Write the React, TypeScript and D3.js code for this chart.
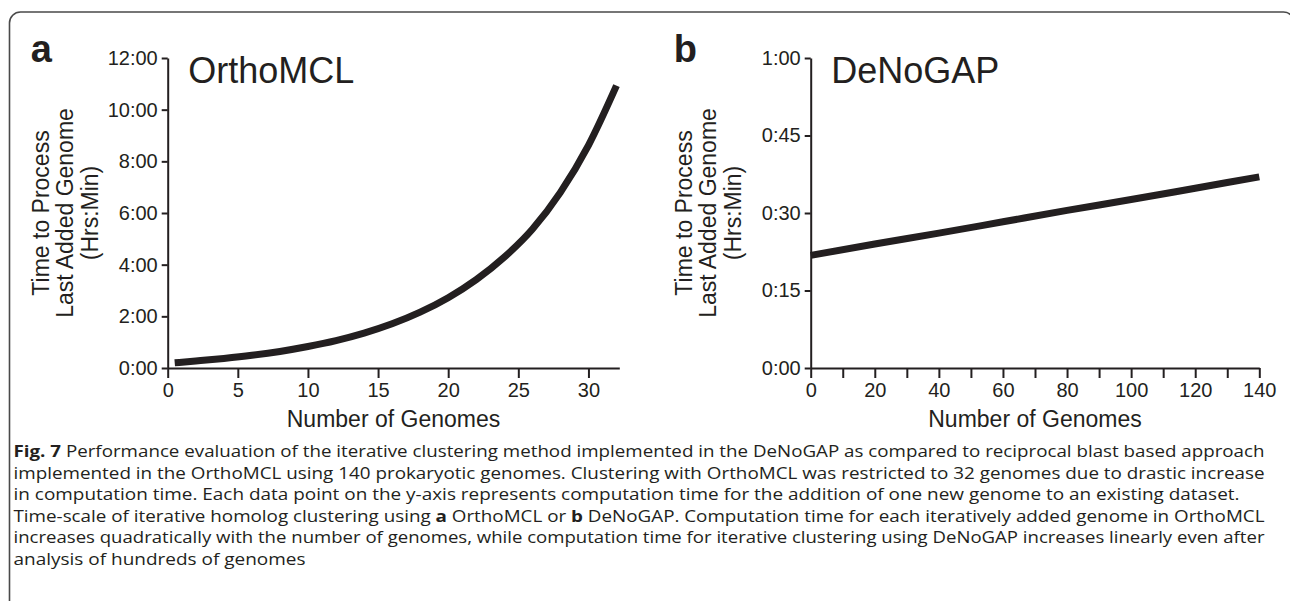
import React, { useEffect, useRef } from "react";
import * as d3 from "d3";

// panel a: OrthoMCL, hours to process the last added genome
const orthoGenomes = [0.5, 2, 4, 6, 8, 10, 12, 14, 16, 18, 20, 22, 24, 26, 28, 30, 32];
const orthoHours = [0.2, 0.27, 0.37, 0.49, 0.64, 0.83, 1.06, 1.35, 1.71, 2.16, 2.72, 3.42, 4.29, 5.37, 6.8, 8.62, 10.93];
const orthoYTicks = [0, 2, 4, 6, 8, 10, 12];
const orthoYLabels = ["0:00", "2:00", "4:00", "6:00", "8:00", "10:00", "12:00"];
const orthoXTicks = [0, 5, 10, 15, 20, 25, 30];

// panel b: DeNoGAP, minutes to process the last added genome
const denoGenomes = [0, 20, 40, 60, 80, 100, 120, 140];
const denoMinutes = [21.8, 24.0, 26.1, 28.3, 30.5, 32.6, 34.8, 37.0];
const denoYTicks = [0, 15, 30, 45, 60];
const denoYLabels = ["0:00", "0:15", "0:30", "0:45", "1:00"];
const denoXTicks = [0, 10, 20, 30, 40, 50, 60, 70, 80, 90, 100, 110, 120, 130, 140];
const denoXLabeled = [0, 20, 40, 60, 80, 100, 120, 140];

const yTitle = ["Time to Process", "Last Added Genome", "(Hrs:Min)"];
const xTitle = "Number of Genomes";

const captionLines = [
  [["Fig. 7", true], [" Performance evaluation of the iterative clustering method implemented in the DeNoGAP as compared to reciprocal blast based approach", false]],
  [["implemented in the OrthoMCL using 140 prokaryotic genomes. Clustering with OrthoMCL was restricted to 32 genomes due to drastic increase", false]],
  [["in computation time. Each data point on the y-axis represents computation time for the addition of one new genome to an existing dataset.", false]],
  [["Time-scale of iterative homolog clustering using ", false], ["a", true], [" OrthoMCL or ", false], ["b", true], [" DeNoGAP. Computation time for each iteratively added genome in OrthoMCL", false]],
  [["increases quadratically with the number of genomes, while computation time for iterative clustering using DeNoGAP increases linearly even after", false]],
  [["analysis of hundreds of genomes", false]],
];
const captionWidths = [1251, 1251, 1226, 1251, 1251, 292];

const INK = "#231f20";
const FONT = "'Liberation Sans', Arial, sans-serif";

function drawPanel(svg, p) {
  const x = d3.scaleLinear().domain(p.xDomain).range(p.xRange);
  const y = d3.scaleLinear().domain(p.yDomain).range([368, 58]);

  const xAxis = svg.append("g")
    .attr("transform", "translate(0,368)")
    .call(d3.axisBottom(x).tickValues(p.xTicks).tickSize(10).tickPadding(5).tickSizeOuter(0)
      .tickFormat(d => (p.xLabeled.includes(d) ? String(d) : "")));
  const yAxis = svg.append("g")
    .attr("transform", `translate(${p.xRange[0]},0)`)
    .call(d3.axisLeft(y).tickValues(p.yTicks).tickSize(6).tickPadding(4).tickSizeOuter(0)
      .tickFormat((d, i) => p.yLabels[i]));

  [xAxis, yAxis].forEach(g => {
    g.attr("font-family", FONT).attr("font-size", 20);
    g.select(".domain").attr("stroke", INK).attr("stroke-width", 2);
    g.selectAll(".tick line").attr("stroke", INK).attr("stroke-width", 2);
    g.selectAll(".tick text").attr("fill", INK);
  });

  // the curve
  const pts = p.xs.map((v, i) => [v, p.ys[i]]);
  svg.append("path")
    .datum(pts)
    .attr("fill", "none")
    .attr("stroke", INK)
    .attr("stroke-width", 7)
    .attr("stroke-linecap", "butt")
    .attr("d", d3.line().x(d => x(d[0])).y(d => y(d[1])).curve(d3.curveMonotoneX));

  // panel letter and name
  svg.append("text").attr("x", p.xRange[0] - 137).attr("y", 62)
    .attr("font-family", FONT).attr("font-weight", "bold").attr("font-size", 38).attr("fill", INK)
    .text(p.letter);
  svg.append("text").attr("x", p.xRange[0] + 20.5).attr("y", 82.5)
    .attr("font-family", FONT).attr("font-size", 36).attr("fill", INK)
    .text(p.name);

  // axis titles
  const xMid = (p.xRange[0] + p.xRange[1]) / 2;
  svg.append("text").attr("x", xMid).attr("y", 427)
    .attr("text-anchor", "middle").attr("font-family", FONT).attr("font-size", 23).attr("fill", INK)
    .text(xTitle);
  const yt = svg.append("g")
    .attr("transform", `translate(${p.xRange[0] - 119},213) rotate(-90)`);
  yTitle.forEach((t, i) => {
    yt.append("text").attr("x", 0).attr("y", i * 24.5)
      .attr("text-anchor", "middle").attr("font-family", FONT).attr("font-size", 23).attr("fill", INK)
      .text(t);
  });
}

export default function App() {
  const ref = useRef(null);

  useEffect(() => {
    const svg = d3.select(ref.current);
    svg.selectAll("*").remove();

    // figure frame, open past the right and bottom edges
    svg.append("rect")
      .attr("x", 9.5).attr("y", 12).attr("width", 1285).attr("height", 640)
      .attr("rx", 11)
      .attr("fill", "none").attr("stroke", "#4a4a4a").attr("stroke-width", 1.6);

    drawPanel(svg, {
      xDomain: [0, 32.2], xRange: [167.7, 619.3],
      yDomain: [0, 12], yTicks: orthoYTicks, yLabels: orthoYLabels,
      xTicks: orthoXTicks, xLabeled: orthoXTicks,
      xs: orthoGenomes, ys: orthoHours, letter: "a", name: "OrthoMCL",
    });
    drawPanel(svg, {
      xDomain: [0, 140], xRange: [810.7, 1259.3],
      yDomain: [0, 60], yTicks: denoYTicks, yLabels: denoYLabels,
      xTicks: denoXTicks, xLabeled: denoXLabeled,
      xs: denoGenomes, ys: denoMinutes, letter: "b", name: "DeNoGAP",
    });

    // caption, justified lines
    captionLines.forEach((line, i) => {
      const t = svg.append("text")
        .attr("x", 13.5).attr("y", 457 + i * 21.6)
        .attr("font-family", "'Open Sans', sans-serif").attr("font-size", 15.8)
        .attr("fill", INK)
        .attr("textLength", captionWidths[i]).attr("lengthAdjust", "spacingAndGlyphs");
      line.forEach(([s, bold]) => {
        t.append("tspan").attr("font-weight", bold ? "bold" : "normal").text(s);
      });
    });

    return () => {
      svg.selectAll("*").remove();
    };
  }, []);

  return (
    <svg ref={ref} width={1290} height={601}
      style={{ position: "absolute", left: 0, top: 0, background: "#fff" }} />
  );
}
